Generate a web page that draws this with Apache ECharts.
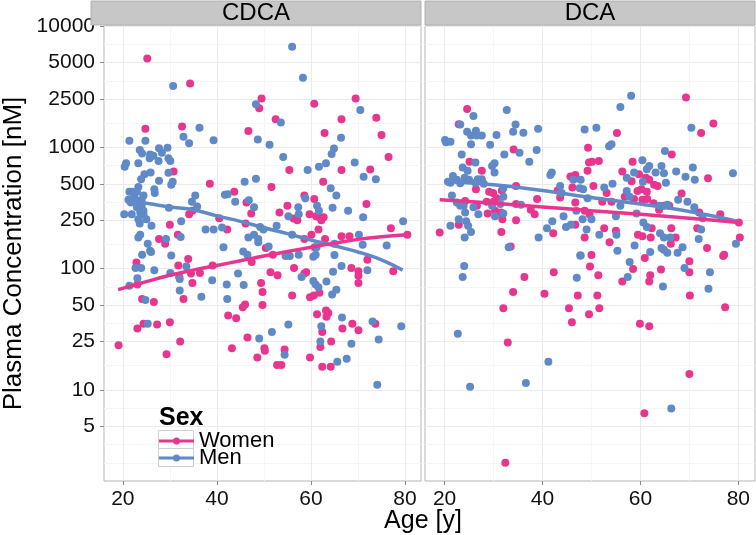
<!DOCTYPE html>
<html><head><meta charset="utf-8">
<script src="https://cdn.jsdelivr.net/npm/echarts@6/dist/echarts.min.js"></script>
<style>html,body{margin:0;padding:0;background:#fff}#c{width:756px;height:535px}</style>
</head><body><div id="c"></div>
<script>
const panels = ['CDCA', 'DCA'];
const sexes = ['Women', 'Men'];

const cdcaWomen = [[25.2,5400],[34.3,3350],[24.8,1420],[32.6,1480],[46.7,1360],[49.0,2100],[49.5,2520],[30.8,630],[27.7,175],[29.0,160],[30,230],[31.7,190],[34.1,280],[34.8,300],[38.5,500],[40.5,260],[42.2,210],[43.7,430],[46.3,350],[47.3,285],[46.1,235],
[60.7,2280],[69.5,2520],[73.9,1750],[66.5,1700],[52.5,1700],[75,1260],[62.9,1310],[76.5,830],[55.4,650],[66.5,650],[72.6,655],[62.6,520],[51.6,470],[58.6,400],[60.7,375],[55,330],[53.3,290],[71.8,340],[59.7,280],[61.1,270],[61.8,265],[62.7,265],[62.2,250],[61.6,210],[56.3,258],[57.1,250],[58.6,175],[60.1,190],[66.5,185],[68.2,185],[77,215],[80.5,190],[63,175],[50.4,148],[60.8,150],
[19.1,23.3],[22.9,112],[23.1,74],[24.1,56],[26.6,53],[23.1,32],[24.4,35],[27.3,34.5],[30,36],[29.3,19.6],[32.2,25],[31.8,106],[32,85],[34.5,91],[34.8,76],[36.4,92],[32.9,56],[39.1,106],[42.4,41],[44.1,39],[43.2,22],[47.4,113],[49.4,76],[49.7,64],[46,50.5],[45.5,48],[49.7,50],[46.5,27],[48.6,18.5],[50.1,22],[50.2,21],[51.4,93],[52.9,88],[56.4,101],[56,60],[59,93],[58.6,91],[52.8,16],[53.7,16],[54.4,21.5],[59.8,18.5],[59.8,58],[60.6,60],[61.8,63],[61.3,42],[63.2,45],[63.7,43],[63.3,40],[62.4,30],[62,22.5],[62.4,15.5],[64.2,15.5],[64.3,25],[66.7,32],[68.8,35],[68.6,101],[70.1,95],[70.1,87],[70.1,76],[70.1,31],[73.7,35],[77.5,95],[33.9,120],[51.9,130],[72,118]];

const cdcaMen = [[30.7,3200],[36.3,1450],[32.9,1220],[34.1,1080],[39.3,1140],[21.4,1130],[24.8,1130],[48.7,1160],[48.3,2260],
[23.6,950],[24.1,890],[25.8,870],[26.5,850],[27.7,980],[28.3,900],[29.5,990],[25.7,810],[27.6,770],[29.7,810],[30.1,770],[23.3,740],[20.7,740],[20.4,690],[24.6,600],[25.9,620],[23.9,545],[27.7,530],[30.6,520],[30.3,490],[29.7,615],[23.3,470],[21.4,430],[22,430],[23,430],[26.7,450],[26.8,420],[24,370],[24.4,400],[22.4,400],[22.7,370],[21.2,370],[21.7,350],[24,330],[23,320],[20.3,280],[21.9,280],[23.7,290],[24.4,300],[23.3,255],[25,255],[24.4,280],[23.6,235],[26.1,225],[23.3,180],[23.7,190],[25.3,160],[25.8,140],[24.1,130],[29.8,317],[32.4,245],[30.3,128],[29.2,175],[32.3,182],[34.7,355],[35.4,400],[35.8,325],[37.6,210],[39.3,210],[41.1,218],[41.4,150],[41.7,405],[42.3,410],[43.9,355],[45.9,520],[48.3,550],[46.8,365],[47.9,320],[49.2,220],[49.9,210],[46.7,180],[47.9,190],[48.8,175],[45.6,138],[46.5,130],[48.8,165],
[56,6750],[58.3,3750],[70.5,2030],[53.6,1600],[66.4,1200],[51.2,1050],[54.1,830],[64.9,975],[64.4,880],[63.2,740],[61.7,690],[59.3,650],[69.3,750],[71.2,570],[73.8,545],[64.2,460],[65.4,400],[58.8,380],[57.3,320],[57.4,280],[61.3,330],[61.7,300],[64.6,317],[67.9,300],[55.2,270],[71.1,265],[52.7,225],[56,190],[70.2,190],[79.6,245],[76.1,155],[71,157],[65,160],[51,152],[61.2,150],
[22.7,101],[23.9,101],[23.1,83],[21.4,72],[26.7,97],[24.8,55],[25.3,35],[33.5,104],[30.1,92],[32.1,82],[32.1,66],[36.7,58.5],[39,80],[42.1,74],[44.5,91],[45.7,73],[42.2,56],[49,26.5],[58,85],[51.7,30],[55.2,34.5],[60.5,79],[61,74],[61.6,70],[62.2,33.5],[62,25],[64.5,61],[65.4,67],[63.3,78],[64.7,94],[66.5,105],[65.6,17],[67.6,18],[66.6,39.5],[68.6,24],[72,97],[73.1,36.5],[74.4,26],[74.1,11],[79.2,33.5],[54.4,19.5],[26,137],[65,129],[60.5,125],[61,130],[54.6,127],[55.5,127],[57.4,130]];

const dcaWomen = [[24.6,2070],[22.9,1550],[34.1,960],[25.1,760],[27.6,640],[26.4,450],[29.1,430],[29.9,420],[30.6,380],[31.7,440],[34.6,480],[24.2,360],[26.6,330],[28.6,355],[30,355],[31.5,290],[30.3,300],[34.6,340],[34.6,250],[31.8,255],[28.8,285],[22.9,230],[19,198],[31.6,200],[33.5,152],[38.9,375],[38.4,280],[42.2,195],[43.6,385],[43.1,440],[45.7,575],[46.7,590],[46.1,465],[49.3,990],[49.5,750],[49.2,640],[48.6,300],[49.6,280],[48.6,180],[37.6,305],[46.7,350],[46.7,230],
[69.3,2570],[74.9,1570],[72.4,1310],[55.2,1310],[66.4,870],[50.1,760],[51.5,770],[58.4,760],[56.3,630],[73.8,555],[58.2,525],[59.7,600],[61.1,560],[61.8,540],[63.5,480],[62.8,490],[50.4,480],[53.1,420],[59.4,435],[60.2,450],[61.3,430],[68.4,415],[56.8,390],[58.7,375],[60.4,370],[61.4,375],[52.2,355],[54.1,355],[62.7,345],[63.8,305],[64.8,330],[65.9,330],[72,290],[76.3,280],[80.1,240],[62.3,215],[66.3,215],[52.6,215],[55,205],[53.7,165],[59.5,190],[60.4,185],[62.1,180],[66.2,160],[67.2,180],[71.6,215],[73.6,148],[80.3,180],[77.1,130],
[34,64],[32,47],[32.9,24.5],[32.4,2.5],[36.3,85],[42.3,93],[40.4,62],[47.2,60],[45.4,47],[46,36],[49.5,42],[49.7,104],[50,129],[51.4,88],[51.2,60],[51.6,47],[58.5,99],[56.3,78],[60.9,122],[62,88],[61.8,78],[64.2,98],[59.9,35],[61.8,33.5],[60.8,6.4],[70,115],[70,93],[70.1,60],[70,13.5],[76.9,127],[77.3,48]];

const dcaMen = [[25.9,1810],[32.7,2030],[23.2,1540],[34.5,1540],[24.6,1340],[26.4,1370],[27.6,1250],[25.4,1250],[26.6,1250],[30.6,1260],[34,1340],[36.1,1320],[39.1,1420],[20.1,1150],[21.2,1110],[20.3,1100],[25.4,1060],[29.3,1050],[38.8,950],[35.3,900],[32.2,870],[23.5,870],[37.3,760],[26.3,750],[23.7,680],[24.7,640],[30.2,740],[29.7,700],[30.2,620],[21.7,580],[22.5,540],[24.1,560],[25,540],[26.8,545],[27.6,545],[21.2,510],[20.7,520],[23.2,505],[26.3,510],[28,500],[32,460],[32,390],[21.5,400],[22.5,350],[23.2,330],[23.9,330],[24.2,290],[25.9,320],[26.9,280],[31.4,340],[29.7,330],[30.3,270],[32,285],[35.6,335],[22.9,255],[24.4,245],[24.8,225],[21.2,225],[24.1,180],[25.4,200],[33.1,150],[39.2,180],[40.9,215],[42,245],[44.3,270],[45.8,230],[41.9,620],[41.6,590],[43.6,480],[43.9,420],[46.3,540],[47.8,540],[47.6,460],[48.3,450],[48.6,1400],[49.2,380],[48.2,255],[49,210],[44.8,220],[46.9,300],[47.7,128],
[58.1,2660],[55.9,2150],[70.4,1450],[51,1450],[53.6,1020],[54.1,1060],[65,930],[60.4,780],[58.7,620],[61.3,660],[61.8,700],[63.1,620],[64.3,700],[64.8,610],[67.3,630],[69.2,570],[70.7,680],[71.1,540],[78.9,610],[57.2,560],[60.5,520],[65.2,510],[52.6,465],[54.3,500],[57.2,435],[57.8,390],[67.7,370],[69.6,355],[55.9,330],[64,330],[65.5,335],[71,320],[72.7,260],[59.2,285],[50,255],[55,270],[60.6,240],[61.3,220],[51.6,190],[55.1,190],[64,195],[64.8,180],[66.1,180],[68.6,150],[72.4,210],[71.9,175],[79.5,160],[55.3,140],[58.8,155],[62,137],[64.3,148],[64.8,143],[65.5,135],[67.6,135],
[24,105],[23.7,85],[22.7,29],[25.2,10.6],[36.6,11.4],[41.2,17],[47,84],[47.8,128],[57.8,113],[57.4,85],[64.6,71],[66.3,7],[69,101],[74.2,93],[73.9,68]];

// smooth fits
const cdcaWomenFitAge = [19, 25, 30, 35, 40, 45, 50, 55, 60, 65, 70, 75, 80.5];
const cdcaWomenFit    = [67, 78, 88, 97, 106, 116, 127, 138, 150, 162, 174, 183, 190];
const cdcaMenFitAge   = [20.7, 25, 30, 35, 40, 45, 50, 55, 60, 65, 70, 75, 79.5];
const cdcaMenFit      = [360, 345, 322, 305, 272, 245, 217, 194, 172, 154, 137, 118, 97];
const dcaWomenFitAge  = [19, 30, 40, 50, 60, 70, 80.1];
const dcaWomenFit     = [370, 345, 322, 300, 280, 260, 240];
const dcaMenFitAge    = [20, 30, 40, 50, 60, 70, 79.9];
const dcaMenFit       = [525, 490, 440, 385, 340, 295, 245];

const yTicks = [5, 10, 25, 50, 100, 250, 500, 1000, 2500, 5000, 10000];
const yMinor = [2.5, 3.54, 7.07, 15.8, 35.4, 70.7, 158, 354, 707, 1581, 3536, 7071];
const xTicks = [20, 40, 60, 80];
const xMinor = [30, 50, 70];

const colors = { Women: '#E8368F', Men: '#6089C7' };
const FONT = 'Liberation Sans, Arial, sans-serif';
const gridBoxes = [{ left: 91, top: 26, width: 330, height: 455 }, { left: 425, top: 26, width: 330, height: 455 }];
const X_MIN = 16.0, X_MAX = 83.4, Y_MIN = 1.77, Y_MAX = 10000;

const grids = gridBoxes.map(g => Object.assign({ show: true, borderColor: '#B5B5B5', borderWidth: 1, backgroundColor: '#fff' }, g));

const xAxes = [], yAxes = [];
[0, 1].forEach(gi => {
  xAxes.push({
    type: 'value', gridIndex: gi, min: X_MIN, max: X_MAX,
    axisLine: { show: false },
    axisTick: { show: true, length: 4, lineStyle: { color: '#8A8A8A' }, customValues: xTicks },
    axisLabel: { show: true, margin: 8, fontSize: 21, color: '#111', fontFamily: FONT, customValues: xTicks },
    splitLine: { show: true, lineStyle: { color: '#EBEBEB', width: 1 } }
  });
  yAxes.push({
    type: 'log', logBase: 10, gridIndex: gi, min: Y_MIN, max: Y_MAX,
    axisLine: { show: false },
    axisTick: { show: gi === 0, length: 4, lineStyle: { color: '#8A8A8A' }, customValues: yTicks },
    axisLabel: { show: gi === 0, margin: 9, fontSize: 21, color: '#111', fontFamily: FONT, customValues: yTicks, formatter: v => String(Math.round(v)) },
    splitLine: { show: true, lineStyle: { color: '#EBEBEB', width: 1 } },
    name: gi === 0 ? 'Plasma Concentration [nM]' : '',
    nameLocation: 'middle', nameGap: 77, nameRotate: 90,
    nameTextStyle: { fontSize: 26, color: '#000', fontFamily: FONT }
  });
});
[0, 1].forEach(gi => {
  xAxes.push({
    type: 'value', gridIndex: gi, min: X_MIN, max: X_MAX,
    axisLine: { show: false }, axisLabel: { show: false },
    axisTick: { show: false, customValues: xMinor },
    splitLine: { show: true, lineStyle: { color: '#F5F5F5', width: 1 } }
  });
  yAxes.push({
    type: 'log', logBase: 10, gridIndex: gi, min: Y_MIN, max: Y_MAX,
    axisLine: { show: false }, axisLabel: { show: false },
    axisTick: { show: false, customValues: yMinor },
    splitLine: { show: true, lineStyle: { color: '#F5F5F5', width: 1 } }
  });
});

function scatter(name, data, gi) {
  return { type: 'scatter', name, xAxisIndex: gi, yAxisIndex: gi, data, symbolSize: 8,
    itemStyle: { color: colors[name], opacity: 1 }, z: 3, silent: true };
}
function fit(name, ages, vals, gi) {
  return { type: 'line', name, xAxisIndex: gi, yAxisIndex: gi,
    data: ages.map((a, i) => [a, vals[i]]), smooth: 0.4, showSymbol: false, symbol: 'none',
    lineStyle: { color: colors[name], width: 3.5 }, itemStyle: { color: colors[name] }, z: 4, silent: true };
}

const series = [
  scatter('Women', cdcaWomen, 0),
  scatter('Men', cdcaMen, 0),
  scatter('Women', dcaWomen, 1),
  scatter('Men', dcaMen, 1),
  fit('Men', cdcaMenFitAge, cdcaMenFit, 0),
  fit('Women', cdcaWomenFitAge, cdcaWomenFit, 0),
  fit('Men', dcaMenFitAge, dcaMenFit, 1),
  fit('Women', dcaWomenFitAge, dcaWomenFit, 1)
];

const graphic = [];
gridBoxes.forEach((g, i) => {
  graphic.push({ type: 'rect', shape: { x: g.left, y: 1, width: g.width, height: 24 },
    style: { fill: '#C7C7C7', stroke: '#B0B0B0', lineWidth: 1 }, z: 1 });
  graphic.push({ type: 'text', x: g.left + g.width / 2, y: 13.5,
    style: { text: panels[i], font: '24px ' + FONT, fill: '#000', textAlign: 'center', textVerticalAlign: 'middle' }, z: 2 });
});
graphic.push({ type: 'text', x: 423, y: 521,
  style: { text: 'Age [y]', font: '25px ' + FONT, fill: '#000', textAlign: 'center', textVerticalAlign: 'middle' }, z: 2 });
graphic.push({ type: 'text', x: 159, y: 418.5,
  style: { text: 'Sex', font: 'bold 25px ' + FONT, fill: '#000', textAlign: 'left', textVerticalAlign: 'middle' }, z: 10 });
[0, 1].forEach(k => {
  graphic.push({ type: 'rect', shape: { x: 158.5, y: 430.5 + 18 * k, width: 35, height: 18 },
    style: { fill: '#fff', stroke: '#D0D0D0', lineWidth: 1 }, z: 9 });
});

const chart = echarts.init(document.getElementById('c'), null, { renderer: 'canvas' });
chart.setOption({
  animation: false,
  backgroundColor: '#fff',
  grid: grids,
  xAxis: xAxes,
  yAxis: yAxes,
  legend: {
    data: sexes, orient: 'vertical', left: 159, top: 430, itemWidth: 35, itemHeight: 7, itemGap: -5,
    icon: 'path://M0,2H35V5H0Z M14,3.5A3.5,3.5 0 1 1 21,3.5A3.5,3.5 0 1 1 14,3.5Z',
    itemStyle: { borderWidth: 0 },
    textStyle: { fontSize: 22, lineHeight: 18, color: '#000', fontFamily: FONT },
    selectedMode: false, padding: 0, z: 12
  },
  graphic: graphic,
  series: series
});
</script>
</body></html>
